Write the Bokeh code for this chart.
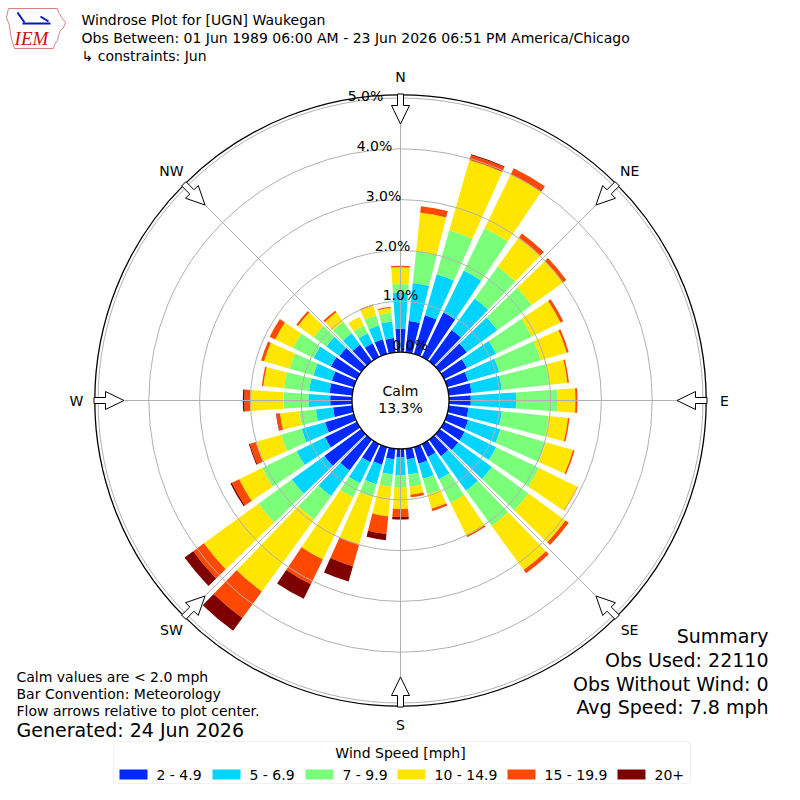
import numpy as np
from bokeh.plotting import figure
from bokeh.models import Range1d, BoxAnnotation, ColumnDataSource
from bokeh.embed import file_html
from bokeh.resources import INLINE
from bokeh.core.properties import value

# ---------------- data ----------------
directions = [0, 10, 20, 30, 40, 50, 60, 70, 80, 90, 100, 110, 120, 130, 140, 150, 160, 170,
              180, 190, 200, 210, 220, 230, 240, 250, 260, 270, 280, 290, 300, 310, 320, 330, 340, 350]
speed_bins = ["2 - 4.9", "5 - 6.9", "7 - 9.9", "10 - 14.9", "15 - 19.9", "20+"]
bin_colors = ["#002AFF", "#00D4FF", "#7BFF7B", "#FFE600", "#FF4800", "#7F0000"]

pct_2_5 = [0.46, 0.62, 0.79, 0.97, 0.76, 0.66, 0.50, 0.43, 0.45, 0.43, 0.39, 0.43, 0.45, 0.45, 0.40, 0.28, 0.34, 0.21,
           0.16, 0.21, 0.36, 0.40, 0.75, 0.90, 0.70, 0.59, 0.38, 0.43, 0.45, 0.45, 0.57, 0.53, 0.40, 0.30, 0.30, 0.28]
pct_5_7 = [0.71, 0.75, 0.84, 0.92, 0.77, 0.74, 0.64, 0.64, 0.60, 0.89, 0.66, 0.66, 0.69, 0.82, 0.84, 0.49, 0.31, 0.30,
           0.36, 0.30, 0.40, 0.46, 0.62, 0.79, 0.62, 0.48, 0.34, 0.43, 0.40, 0.38, 0.38, 0.32, 0.28, 0.22, 0.28, 0.33]
pct_7_10 = [0.17, 0.63, 0.90, 0.93, 0.77, 0.84, 0.78, 0.85, 0.94, 0.82, 0.93, 0.93, 0.94, 0.89, 0.86, 0.52, 0.32, 0.24,
            0.23, 0.24, 0.26, 0.31, 0.57, 0.81, 0.76, 0.42, 0.33, 0.49, 0.50, 0.49, 0.45, 0.31, 0.28, 0.17, 0.21, 0.17]
pct_10_15 = [0.33, 0.76, 1.44, 1.18, 0.71, 0.76, 0.63, 0.53, 0.36, 0.35, 0.38, 0.56, 0.84, 0.90, 1.07, 0.72, 0.29, 0.16,
             0.43, 0.59, 0.97, 1.36, 1.75, 1.33, 0.50, 0.52, 0.38, 0.66, 0.41, 0.52, 0.39, 0.38, 0.23, 0.19, 0.20, 0.10]
pct_15_20 = [0.03, 0.13, 0.10, 0.13, 0.10, 0.08, 0.06, 0.04, 0.03, 0.04, 0.03, 0.03, 0.01, 0.08, 0.08, 0.03, 0.05, 0.05,
             0.16, 0.35, 0.45, 0.54, 0.65, 0.26, 0.16, 0.12, 0.07, 0.11, 0.03, 0.06, 0.12, 0.04, 0.04, 0.00, 0.02, 0.02]
pct_20_up = [0.00, 0.00, 0.02, 0.00, 0.00, 0.00, 0.00, 0.00, 0.00, 0.00, 0.00, 0.00, 0.00, 0.00, 0.00, 0.00, 0.00, 0.00,
             0.05, 0.12, 0.31, 0.32, 0.31, 0.21, 0.03, 0.02, 0.01, 0.03, 0.00, 0.00, 0.00, 0.00, 0.00, 0.00, 0.00, 0.00]

radial_ticks = [0, 1, 2, 3, 4, 5]
radial_tick_labels = ["0.0%", "1.0%", "2.0%", "3.0%", "4.0%", "5.0%"]
compass_dirs = [0, 45, 90, 135, 180, 225, 270, 315]
compass_labels = ["N", "NE", "E", "SE", "S", "SW", "W", "NW"]
calm_pct = 13.3

title_lines = ["Windrose Plot for [UGN] Waukegan",
               "Obs Between: 01 Jun 1989 06:00 AM - 23 Jun 2026 06:51 PM America/Chicago",
               "\u21b3 constraints: Jun"]
notes_left = ["Calm values are < 2.0 mph", "Bar Convention: Meteorology",
              "Flow arrows relative to plot center."]
generated = "Generated: 24 Jun 2026"
summary_lines = ["Summary", "Obs Used: 22110", "Obs Without Wind: 0", "Avg Speed: 7.8 mph"]
legend_title = "Wind Speed [mph]"

# ---------------- geometry ----------------
H = 800
def Y(py):
    return H - py

CX, CY = 400.0, Y(400.0)
R0, K = 48.5, 50.8
def rad(p):
    return R0 + K * np.asarray(p, dtype=float)

FONT = value("DejaVu Sans")

p = figure(width=784, height=784, x_range=Range1d(0, 784), y_range=Range1d(16, 800),
           x_axis_type=None, y_axis_type=None, toolbar_location=None, output_backend="svg",
           min_border=0, outline_line_color=None, background_fill_color="white")
p.grid.visible = False

def label(xs, ys, texts, size="14px", align="left", font=FONT, color="black", style="normal"):
    p.text(x=list(xs), y=[Y(v) for v in ys], text=list(texts), text_font=font,
           text_font_size=value(size), text_color=color, text_align=align,
           text_baseline="middle", text_font_style=style)

# ---------------- bars ----------------
series = [pct_2_5, pct_5_7, pct_7_10, pct_10_15, pct_15_20, pct_20_up]
dirs = np.array(directions, dtype=float)
theta = np.deg2rad(90.0 - dirs)
half = np.deg2rad(4.0)
base = np.zeros(len(dirs))
for vals, col in zip(series, bin_colors):
    v = np.array(vals, dtype=float)
    top = base + v
    mask = v > 0
    src = ColumnDataSource(dict(ri=rad(base[mask]), ro=rad(top[mask]),
                                a0=theta[mask] - half, a1=theta[mask] + half))
    p.annular_wedge(x=CX, y=CY, inner_radius="ri", outer_radius="ro",
                    start_angle="a0", end_angle="a1", source=src,
                    fill_color=col, line_color=None)
    base = top

# ---------------- grid ----------------
p.arc(x=CX, y=CY, radius=rad(radial_ticks[1:]), start_angle=0, end_angle=2 * np.pi,
      line_color="#b0b0b0", line_width=1)
cd = np.deg2rad(90.0 - np.array(compass_dirs, dtype=float))
r_out = float(rad(5))
p.segment(x0=CX + R0 * np.cos(cd), y0=CY + R0 * np.sin(cd),
          x1=CX + r_out * np.cos(cd), y1=CY + r_out * np.sin(cd),
          line_color="#b0b0b0", line_width=1)

# calm circle
p.circle(x=[CX], y=[CY], radius=R0, fill_color="white", line_color="black", line_width=1.3)
# outer frame
p.arc(x=CX, y=CY, radius=305.7, start_angle=0, end_angle=2 * np.pi, line_color="black", line_width=1.3)

# ---------------- arrows ----------------
axs, ays = [], []
shape_r = [306.5, 295, 295, 276.5, 295, 295, 306.5]
shape_w = [-3, -3, -9, 0, 9, 3, 3]
for a in cd:
    ur = np.array([np.cos(a), np.sin(a)])
    ut = np.array([-np.sin(a), np.cos(a)])
    xs = [CX + r * ur[0] + w * ut[0] for r, w in zip(shape_r, shape_w)]
    ys = [CY + r * ur[1] + w * ut[1] for r, w in zip(shape_r, shape_w)]
    axs.append(xs)
    ays.append(ys)
p.patches(xs=axs, ys=ays, fill_color="white", line_color="black", line_width=1)

# compass labels
lab_r = 324.0
p.text(x=CX + lab_r * np.cos(cd), y=CY + lab_r * np.sin(cd), text=compass_labels,
       text_font=FONT, text_font_size=value("14px"), text_color="black",
       text_align="center", text_baseline="middle")

# radial labels
label([409.5, 400, 392, 383, 374, 365], [344, 294, 245, 195, 145, 95], radial_tick_labels, align="center")

# calm text
label([CX, CX], [390, 407], ["Calm", f"{calm_pct:.1f}%"], align="center")

# ---------------- titles ----------------
label([81, 81, 81], [19, 37, 55], title_lines)

# logo
iowa_x = [8, 57, 58, 62, 65, 63, 60, 58, 57, 54, 53, 14, 12, 10, 9, 6, 8]
iowa_y = [8, 8, 12, 18, 22, 27, 30, 35, 40, 44, 48, 48, 42, 34, 25, 17, 8]
p.line(x=iowa_x, y=[Y(v) for v in iowa_y], line_color="#d98080", line_width=1)
p.segment(x0=[17, 22, 40], y0=[Y(12), Y(23), Y(16)], x1=[24, 50, 48], y1=[Y(22), Y(23), Y(21)],
          line_color="#0018c0", line_width=2)
label([31], [38], ["IEM"], size="19px", align="center", font=value("Liberation Serif"),
      color="#cc1010", style="italic")

# ---------------- notes ----------------
label([16, 16, 16], [676, 693, 710], notes_left)
label([16], [729], [generated], size="19px")
label([768] * 4, [635, 659, 683, 706], summary_lines, size="19px", align="right")

# ---------------- legend ----------------
box = BoxAnnotation(left=113, right=690, top=Y(741), bottom=Y(783), fill_color="white",
                    fill_alpha=1.0, line_color="#cccccc", line_width=1, border_radius=4,
                    level="underlay")
p.add_layout(box)
label([400], [752], [legend_title], align="center")
sw_left = [119, 212, 305, 397, 507, 617]
p.quad(left=sw_left, right=[v + 28 for v in sw_left], top=[Y(769)] * 6, bottom=[Y(779)] * 6,
       fill_color=bin_colors, line_color=None)
label([v + 37 for v in sw_left], [774] * 6, speed_bins)

open("out.html", "w").write(file_html(p, INLINE))
